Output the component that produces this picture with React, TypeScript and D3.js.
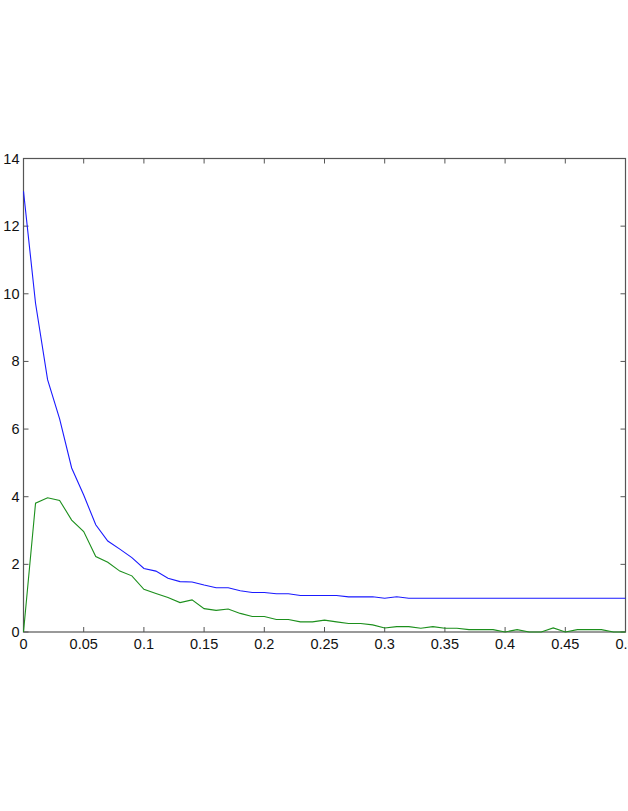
import React, { useRef, useEffect } from "react";
import * as d3 from "d3";

// x positions: 0 to 0.5 in steps of 0.01
const xValues = [
  0, 0.01, 0.02, 0.03, 0.04, 0.05, 0.06, 0.07, 0.08, 0.09,
  0.1, 0.11, 0.12, 0.13, 0.14, 0.15, 0.16, 0.17, 0.18, 0.19,
  0.2, 0.21, 0.22, 0.23, 0.24, 0.25, 0.26, 0.27, 0.28, 0.29,
  0.3, 0.31, 0.32, 0.33, 0.34, 0.35, 0.36, 0.37, 0.38, 0.39,
  0.4, 0.41, 0.42, 0.43, 0.44, 0.45, 0.46, 0.47, 0.48, 0.49, 0.5,
];

const blueValues = [
  13.03, 9.72, 7.46, 6.3, 4.85, 4.05, 3.17, 2.69, 2.45, 2.2,
  1.88, 1.8, 1.59, 1.49, 1.48, 1.39, 1.31, 1.31, 1.22, 1.17,
  1.17, 1.13, 1.13, 1.08, 1.08, 1.08, 1.08, 1.04, 1.04, 1.04,
  1.0, 1.04, 1.0, 1.0, 1.0, 1.0, 1.0, 1.0, 1.0, 1.0,
  1.0, 1.0, 1.0, 1.0, 1.0, 1.0, 1.0, 1.0, 1.0, 1.0, 1.0,
];

const greenValues = [
  0, 3.81, 3.97, 3.89, 3.31, 2.97, 2.23, 2.06, 1.8, 1.66,
  1.26, 1.14, 1.02, 0.87, 0.95, 0.69, 0.64, 0.68, 0.55, 0.46,
  0.46, 0.37, 0.37, 0.3, 0.3, 0.35, 0.3, 0.25, 0.25, 0.21,
  0.12, 0.16, 0.16, 0.11, 0.16, 0.11, 0.11, 0.07, 0.07, 0.07,
  0, 0.07, 0, 0, 0.12, 0, 0.07, 0.07, 0.07, 0, 0,
];

const xTicks = [0, 0.05, 0.1, 0.15, 0.2, 0.25, 0.3, 0.35, 0.4, 0.45, 0.5];
const yTicks = [0, 2, 4, 6, 8, 10, 12, 14];

function App() {
  const ref = useRef(null);

  useEffect(() => {
    const svg = d3.select(ref.current);
    svg.selectAll("*").remove();

    const left = 23.5;
    const right = 625.5;
    const top = 158.5;
    const bottom = 632;

    const x = d3.scaleLinear().domain([0, 0.5]).range([left, right]);
    const y = d3.scaleLinear().domain([0, 14]).range([bottom, top]);
    const axisColor = "#555";
    const tickLen = 5;
    const font = "Liberation Sans, Arial, sans-serif";

    // inward ticks on all four sides
    const g = svg.append("g");
    xTicks.forEach((t) => {
      g.append("line")
        .attr("x1", x(t)).attr("x2", x(t))
        .attr("y1", bottom).attr("y2", bottom - tickLen)
        .attr("stroke", axisColor);
      g.append("line")
        .attr("x1", x(t)).attr("x2", x(t))
        .attr("y1", top).attr("y2", top + tickLen)
        .attr("stroke", axisColor);
      // last label runs off the page edge, as in the original
      g.append("text")
        .attr("x", x(t))
        .attr("y", bottom + 17)
        .attr("text-anchor", "middle")
        .attr("font-family", font)
        .attr("font-size", 14.5)
        .attr("fill", "#111")
        .text(String(t));
    });
    yTicks.forEach((t) => {
      g.append("line")
        .attr("x1", left).attr("x2", left + tickLen)
        .attr("y1", y(t)).attr("y2", y(t))
        .attr("stroke", axisColor);
      g.append("line")
        .attr("x1", right).attr("x2", right - tickLen)
        .attr("y1", y(t)).attr("y2", y(t))
        .attr("stroke", axisColor);
      g.append("text")
        .attr("x", left - 4)
        .attr("y", y(t) + 5)
        .attr("text-anchor", "end")
        .attr("font-family", font)
        .attr("font-size", 14.5)
        .attr("fill", "#111")
        .text(String(t));
    });

    g.append("rect")
      .attr("x", left).attr("y", top)
      .attr("width", right - left).attr("height", bottom - top)
      .attr("fill", "none")
      .attr("stroke", axisColor)
      .attr("stroke-width", 1.2);

    const line = d3.line()
      .x((d) => x(d[0]))
      .y((d) => y(d[1]));

    const series = [
      { values: blueValues, color: "#1a1aff" },
      { values: greenValues, color: "#1c8f1c" },
    ];
    series.forEach((s) => {
      svg.append("path")
        .datum(xValues.map((xv, i) => [xv, s.values[i]]))
        .attr("d", line)
        .attr("fill", "none")
        .attr("stroke", s.color)
        .attr("stroke-width", 1.1);
    });
  });

  return (
    <svg
      ref={ref}
      width="628"
      height="811"
      style={{ position: "absolute", left: 0, top: 0, background: "#fff" }}
    ></svg>
  );
}

export default App;
